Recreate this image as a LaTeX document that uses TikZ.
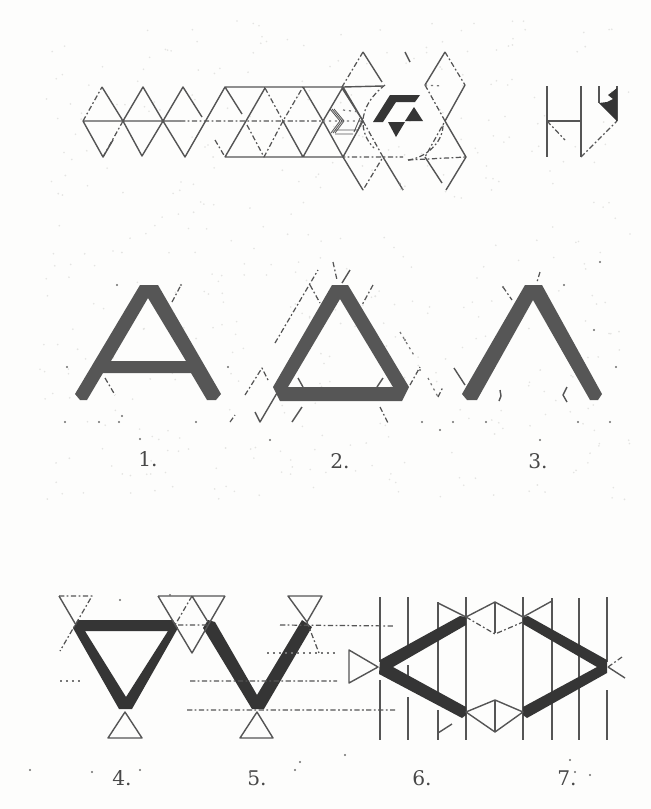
\documentclass[tikz,border=0pt]{standalone}
\usepackage{fontspec}
\setmainfont{DejaVu Serif}
\tikzset{
  guideSolid/.style={draw=inkGuide,line width=.8pt},
  guideDash/.style={draw=inkGuide,line width=.7pt,dash pattern=on 3pt off 1.4pt on 1pt off 1.4pt},
  guideDot/.style={draw=inkGuide!80,line width=.7pt,dash pattern=on 1.2pt off 2.2pt},
  lightLetter/.style={fill=inkLetter,even odd rule},
  darkLetter/.style={fill=inkDark,even odd rule},
  plateNumber/.style={text=inkNumber,font=\fontsize{11.5}{13}\selectfont,anchor=base,inner sep=0pt}
}
\begin{document}
\begin{tikzpicture}[x=.02cm,y=-.02cm,line join=round,line cap=butt]
  \definecolor{inkGuide}{HTML}{555555}
  \definecolor{inkLetter}{HTML}{565656}
  \definecolor{inkDark}{HTML}{353535}
  \definecolor{inkNumber}{HTML}{484848}
  \definecolor{paperTone}{HTML}{FDFDFC}
  \definecolor{paperGrain}{HTML}{E4E4E2}
  \fill[paperTone] (0,0) rectangle (651,809);
  \useasboundingbox (0,0) rectangle (651,809);

  % Show-through of the sheet.
  \pgfmathsetseed{41}
  \foreach \n in {1,...,450}{
    \pgfmathsetmacro\gx{40+rnd*590}
    \pgfmathsetmacro\gy{20+rnd*480}
    \fill[paperGrain] (\gx,\gy) circle (.9);
  }

  % Strip of triangles, top row.
  \draw[guideSolid]
    (102,87) -- (123,121) -- (143,87) -- (163,121) -- (183,87) -- (202,117)
    (83,121) -- (103,157) -- (113,140)
    (123,121) -- (142,156) -- (163,121) -- (185,157) -- (225,87) -- (242,114)
    (123,121) -- (143,87) (163,121) -- (183,87)
    (225,157) -- (246,121) -- (265,88)
    (303,87) -- (323,121) -- (343,87) -- (363,121)
    (283,121) -- (303,157) -- (323,121) -- (343,157) -- (363,190)
    (343,157) -- (363,121) -- (342,88)
    (83,121) -- (180,121)
    (225,87) -- (343,87) -- (383,86)
    (225,157) -- (340,157)
    (363,52) -- (382,82)
    (445,52) -- (425,85)
    (465,85) -- (445,121)
    (445,121) -- (466,157) -- (446,190)
    (425,157) -- (442,183)
    (405,52) -- (410,62)
    (383,157) -- (403,190);
  \draw[guideDash]
    (83,121) -- (102,87)
    (103,157) -- (123,121)
    (180,121) -- (323,121)
    (215,140) -- (225,157)
    (247,125) -- (264,157) -- (283,121) -- (303,87)
    (265,88) -- (283,121)
    (363,52) -- (342,87)
    (445,52) -- (465,85)
    (425,85) -- (445,121) -- (425,157)
    (363,121) -- (383,157) -- (363,190)
    (340,157) -- (403,157)
    (408,160) -- (466,157);
  \draw[guideDot]
    (425,85) -- (441,86)
    (343,110) -- (360,112)
    (323,121) -- (363,121)
    (403,190) -- (398,180);

  % Small chevrons and arcs round the mark.
  \foreach \dx in {0,2,4}{
    \draw[guideSolid,line width=.5pt] (330+\dx,109) -- (340+\dx,121) -- (331+\dx,133);
  }
  \draw[guideSolid,line width=.5pt] (335,130) -- (357,130) (335,134) -- (353,134)
    (363,118) -- (357,132) (360,118) -- (354,132);
  \draw[guideDash] (385,85) .. controls (372,95) and (363,108) .. (363,122)
    .. controls (363,131) and (366,140) .. (374,148);
  \draw[guideDash] (408,160) .. controls (425,158) and (443,143) .. (443,125);

  % Mark at the centre of the strip.
  \path[fill=inkDark]
    (373,122) -- (390,95) -- (420,95) -- (415,102) -- (396,102) -- (383,122) -- cycle
    (405,121) -- (414,107) -- (423,121) -- cycle
    (388,122) -- (405,122) -- (396,137) -- cycle;

  % Small sketch to the right.
  \draw[guideSolid,line width=1pt] (547,86) -- (547,157) (581,86) -- (581,157)
    (599,86) -- (599,103) (617,86) -- (617,121);
  \draw[guideSolid] (547,121) -- (581,121);
  \draw[guideDash] (547,121) -- (565,140) (581,157) -- (617,121);
  \path[fill=inkDark] (599,103) -- (617,121) -- (617,88) -- (612,92) -- (608,95) -- (613,99)
    -- (607,102) -- cycle;

  % Letters of the middle row.
  \path[lightLetter]
    (75,394) -- (140,285) -- (158,285) -- (221,394) -- (216,400) -- (207,400) -- (191,373)
    -- (103,373) -- (87,400) -- (80,400) -- cycle
    (148,298) -- (111,361) -- (186,361) -- cycle;
  \path[lightLetter]
    (273,387) -- (332,285) -- (348,285) -- (409,387) -- (402,401) -- (280,401) -- cycle
    (340,299) -- (288,387) -- (393,387) -- cycle;
  \path[lightLetter]
    (462,394) -- (525,285) -- (542,285) -- (602,394) -- (598,400) -- (590,400)
    -- (533,300) -- (477,400) -- (467,400) -- cycle;

  % Construction traces round the letters.
  \draw[guideDash]
    (105,378) -- (115,395)
    (172,302) -- (181,285)
    (230,422) -- (235,415)
    (245,395) -- (262,368) -- (268,380)
    (275,343) -- (318,270)
    (310,285) -- (320,303)
    (333,262) -- (337,280)
    (373,285) -- (362,305)
    (380,407) -- (388,423)
    (410,385) -- (420,367)
    (438,397) -- (443,387)
    (503,287) -- (512,300)
    (540,272) -- (537,282);
  \draw[guideDot]
    (400,332) -- (415,357)
    (428,378) -- (438,397);
  \draw[guideSolid]
    (255,412) -- (260,422) -- (277,393)
    (292,422) -- (302,407)
    (350,270) -- (342,283)
    (298,378) -- (303,387)
    (383,378) -- (377,387)
    (454,368) -- (465,385)
    (500,390) -- (501,396) -- (499,401)
    (567,387) -- (563,395) -- (567,402);

  \node[plateNumber] (numberA) at (148,466) {1.};
  \node[plateNumber] (numberB) at (340,468) {2.};
  \node[plateNumber] (numberC) at (538,468) {3.};

  % Rulings of the lower row.
  \foreach \x/\a/\b in {380/597/662,380/680/740,408/597/652,408/665/683,408/697/740,
                        438/602/695,438/710/740,466/597/740,495/602/633,495/700/732,
                        523/597/740,552/598/740,579/598/740,607/597/662,607/690/740}{
    \draw[guideSolid,line width=1pt] (\x,\a) -- (\x,\b);
  }

  % Letters of the lower row.
  \path[darkLetter]
    (73,628) -- (78,620) -- (173,620) -- (178,628) -- (132,709) -- (119,709) -- cycle
    (85,631) -- (168,631) -- (126,697) -- cycle;
  \path[darkLetter]
    (203,628) -- (208,620) -- (215,622) -- (257,695) -- (302,620) -- (312,627) -- (264,709)
    -- (252,709) -- cycle;
  \path[darkLetter]
    (380,660) -- (460,616) -- (466,617) -- (466,625) -- (393,667) -- (466,707) -- (466,715)
    -- (462,718) -- (379,674) -- cycle;
  \path[darkLetter]
    (607,660) -- (528,616) -- (523,617) -- (523,624) -- (597,667) -- (523,707) -- (523,715)
    -- (527,718) -- (607,673) -- cycle;

  \draw[guideDash]
    (178,625) -- (208,625) (280,625) -- (395,626)
    (190,681) -- (337,681)
    (187,710) -- (395,710);
  \draw[guideDot]
    (60,681) -- (80,681)
    (267,653) -- (337,653);

  % Small triangles on the corners.
  \draw[guideSolid]
    (59,596) -- (76,625)
    (158,596) -- (225,596)
    (158,596) -- (192,653) -- (225,596)
    (192,596) -- (208,622)
    (125,712) -- (108,738) -- (142,738) -- cycle
    (288,596) -- (322,596) -- (307,622) -- cycle
    (257,712) -- (240,738) -- (273,738) -- cycle
    (349,650) -- (349,683) -- (378,667) -- cycle
    (438,603) -- (466,617) -- (495,602) -- (523,617) -- (552,601)
    (466,712) -- (495,700) -- (523,712) -- (495,732) -- cycle
    (438,733) -- (452,724)
    (608,667) -- (625,678);
  \draw[guideDash]
    (59,596) -- (92,596) -- (60,651)
    (192,596) -- (175,625)
    (307,622) -- (319,653)
    (466,617) -- (495,634) -- (523,622)
    (608,667) -- (622,657);

  \node[plateNumber] (numberD) at (122,785) {4.};
  \node[plateNumber] (numberE) at (257,785) {5.};
  \node[plateNumber] (numberF) at (422,785) {6.};
  \node[plateNumber] (numberG) at (567,785) {7.};

  % Specks.
  \foreach \x/\y in {65/422,99/422,119/422,122/416,196/422,67/367,228/367,422/422,453/422,486/422,
                     578/422,610/422,140/439,117/285,181/285,503/287,564/285,594/330,616/367,
                     600/262,420/370,405/340,440/430,540/440,170/595,250/772,92/772,140/770,
                     295/770,300/762,345/755,575/772,570/760,590/775,30/770,120/600,270/440}{
    \fill[inkGuide!85] (\x,\y) circle (1.1);
  }
\end{tikzpicture}
\end{document}
